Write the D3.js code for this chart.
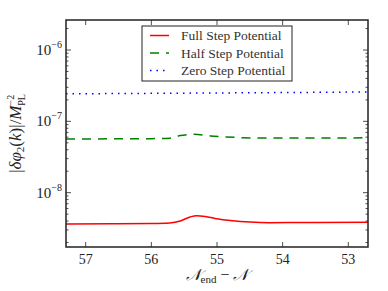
<!DOCTYPE html>
<html>
<head>
<meta charset="utf-8">
<script src="https://cdn.jsdelivr.net/npm/d3@7"></script>
<style>
  body { margin: 0; background: #fff; }
</style>
</head>
<body>
<div id="chart"></div>
<script>
// e-folds before end of inflation and |delta phi_2(k)| / M_PL^-2
const fullN   = [57.3, 56.6, 56.0, 55.72, 55.56, 55.41, 55.31, 55.18, 55.03, 54.76, 54.5, 54.2, 53.5, 52.7];
const fullVal = [3.64e-9, 3.66e-9, 3.69e-9, 3.76e-9, 4.0e-9, 4.56e-9, 4.75e-9, 4.63e-9, 4.35e-9, 4.04e-9, 3.88e-9, 3.80e-9, 3.82e-9, 3.84e-9];

const halfN   = [57.3, 56.0, 55.72, 55.56, 55.35, 55.1, 54.86, 54.6, 54.4, 53.5, 52.7];
const halfVal = [5.66e-8, 5.72e-8, 5.8e-8, 6.31e-8, 6.58e-8, 6.24e-8, 6.04e-8, 5.9e-8, 5.85e-8, 5.85e-8, 5.87e-8];

const zeroN   = [57.3, 55.0, 52.7];
const zeroVal = [2.43e-7, 2.5e-7, 2.58e-7];

const series = [
  { name: "Full Step Potential", n: fullN, v: fullVal, color: "#ff0000", dash: null },
  { name: "Half Step Potential", n: halfN, v: halfVal, color: "#008000", dash: "9,7" },
  { name: "Zero Step Potential", n: zeroN, v: zeroVal, color: "#0000ff", dash: "1.5,5" }
];

const xTicks = [57, 56, 55, 54, 53];
const yTicks = [-6, -7, -8];

const width = 388, height = 291, margin = { top: 20, right: 20, bottom: 44, left: 66 };
const font = "'Liberation Serif', 'Times New Roman', 'DejaVu Serif', serif";

const svg = d3.select("#chart")
  .append("svg")
  .attr("width", width)
  .attr("height", height)
  .attr("font-family", font)
  .style("font-family", font);

const x = d3.scaleLinear()
  .domain([57.3, 52.7])
  .range([margin.left, width - margin.right]);

const y = d3.scaleLog()
  .domain([Math.pow(10, -8.762), Math.pow(10, -5.579)])
  .range([height - margin.bottom, margin.top]);

const x0 = margin.left, x1 = width - margin.right;
const y0 = height - margin.bottom, y1 = margin.top;

// minor ticks on the log axis
const minor = [];
for (let e = -9; e <= -6; e++) {
  for (let m = 2; m <= 9; m++) {
    const v = m * Math.pow(10, e);
    if (v > y.domain()[0] && v < y.domain()[1]) minor.push(v);
  }
}

const ticks = svg.append("g").attr("stroke", "#222").attr("stroke-width", 0.8);

minor.forEach(v => {
  ticks.append("line").attr("x1", x0).attr("x2", x0 + 2.5).attr("y1", y(v)).attr("y2", y(v));
  ticks.append("line").attr("x1", x1).attr("x2", x1 - 2.5).attr("y1", y(v)).attr("y2", y(v));
});
yTicks.forEach(e => {
  const v = Math.pow(10, e);
  ticks.append("line").attr("x1", x0).attr("x2", x0 + 5).attr("y1", y(v)).attr("y2", y(v));
  ticks.append("line").attr("x1", x1).attr("x2", x1 - 5).attr("y1", y(v)).attr("y2", y(v));
});
xTicks.forEach(t => {
  ticks.append("line").attr("x1", x(t)).attr("x2", x(t)).attr("y1", y0).attr("y2", y0 - 5);
  ticks.append("line").attr("x1", x(t)).attr("x2", x(t)).attr("y1", y1).attr("y2", y1 + 5);
});

// tick labels
svg.append("g").selectAll("text")
  .data(xTicks)
  .join("text")
  .attr("x", d => x(d))
  .attr("y", y0 + 17)
  .attr("text-anchor", "middle")
  .attr("font-size", 14)
  .attr("fill", "#222")
  .text(d => d);

const yl = svg.append("g").selectAll("text")
  .data(yTicks)
  .join("text")
  .attr("x", x0 - 4)
  .attr("y", d => y(Math.pow(10, d)) + 5)
  .attr("text-anchor", "end")
  .attr("font-size", 15)
  .attr("fill", "#222");
yl.append("tspan").text("10");
yl.append("tspan").attr("dy", -7).attr("font-size", 10).text(d => "\u2212" + Math.abs(d));

// lines
const line = d3.line()
  .x(d => x(d[0]))
  .y(d => y(d[1]))
  .curve(d3.curveMonotoneX);

series.forEach(s => {
  svg.append("path")
    .datum(s.n.map((n, i) => [n, s.v[i]]))
    .attr("fill", "none")
    .attr("stroke", s.color)
    .attr("stroke-width", 1.5)
    .attr("stroke-dasharray", s.dash)
    .attr("d", line);
});

// frame
svg.append("rect")
  .attr("x", x0).attr("y", y1)
  .attr("width", x1 - x0).attr("height", y0 - y1)
  .attr("fill", "none").attr("stroke", "#222").attr("stroke-width", 1.5);

// legend
const lg = svg.append("g").attr("transform", "translate(142,26)");
lg.append("rect").attr("width", 150).attr("height", 55)
  .attr("fill", "#fff").attr("stroke", "#222").attr("stroke-width", 1);
series.forEach((s, i) => {
  const ly = 9.5 + i * 17.5;
  lg.append("line").attr("x1", 8).attr("x2", 27).attr("y1", ly).attr("y2", ly)
    .attr("stroke", s.color).attr("stroke-width", 1.5).attr("stroke-dasharray", s.dash);
  lg.append("text").attr("x", 39).attr("y", ly + 4.5).attr("font-size", 13.5)
    .attr("fill", "#333").text(s.name);
});

// axis titles
const xt = svg.append("text")
  .attr("x", (x0 + x1) / 2)
  .attr("y", y0 + 33)
  .attr("text-anchor", "middle")
  .attr("font-size", 16)
  .attr("fill", "#222");
xt.append("tspan").attr("font-style", "italic").text("\uD835\uDCA9");
xt.append("tspan").attr("font-size", 11).attr("dy", 3).text("end");
xt.append("tspan").attr("dy", -3).text(" \u2212 ");
xt.append("tspan").attr("font-style", "italic").text("\uD835\uDCA9");

const yt = svg.append("text")
  .attr("transform", `translate(21,${(y0 + y1) / 2}) rotate(-90)`)
  .attr("text-anchor", "middle")
  .attr("font-size", 17)
  .attr("fill", "#222");
yt.append("tspan").text("|");
yt.append("tspan").attr("font-style", "italic").text("\u03B4\u03C6");
yt.append("tspan").attr("font-size", 11).attr("dy", 3).text("2");
yt.append("tspan").attr("dy", -3).text("(");
yt.append("tspan").attr("font-style", "italic").text("k");
yt.append("tspan").text(")|/");
yt.append("tspan").attr("font-style", "italic").text("M");
yt.append("tspan").attr("font-size", 10).attr("dy", -7).text("\u22122");
yt.append("tspan").attr("font-size", 10).attr("dy", 11).attr("dx", -11).text("PL");
</script>
</body>
</html>
